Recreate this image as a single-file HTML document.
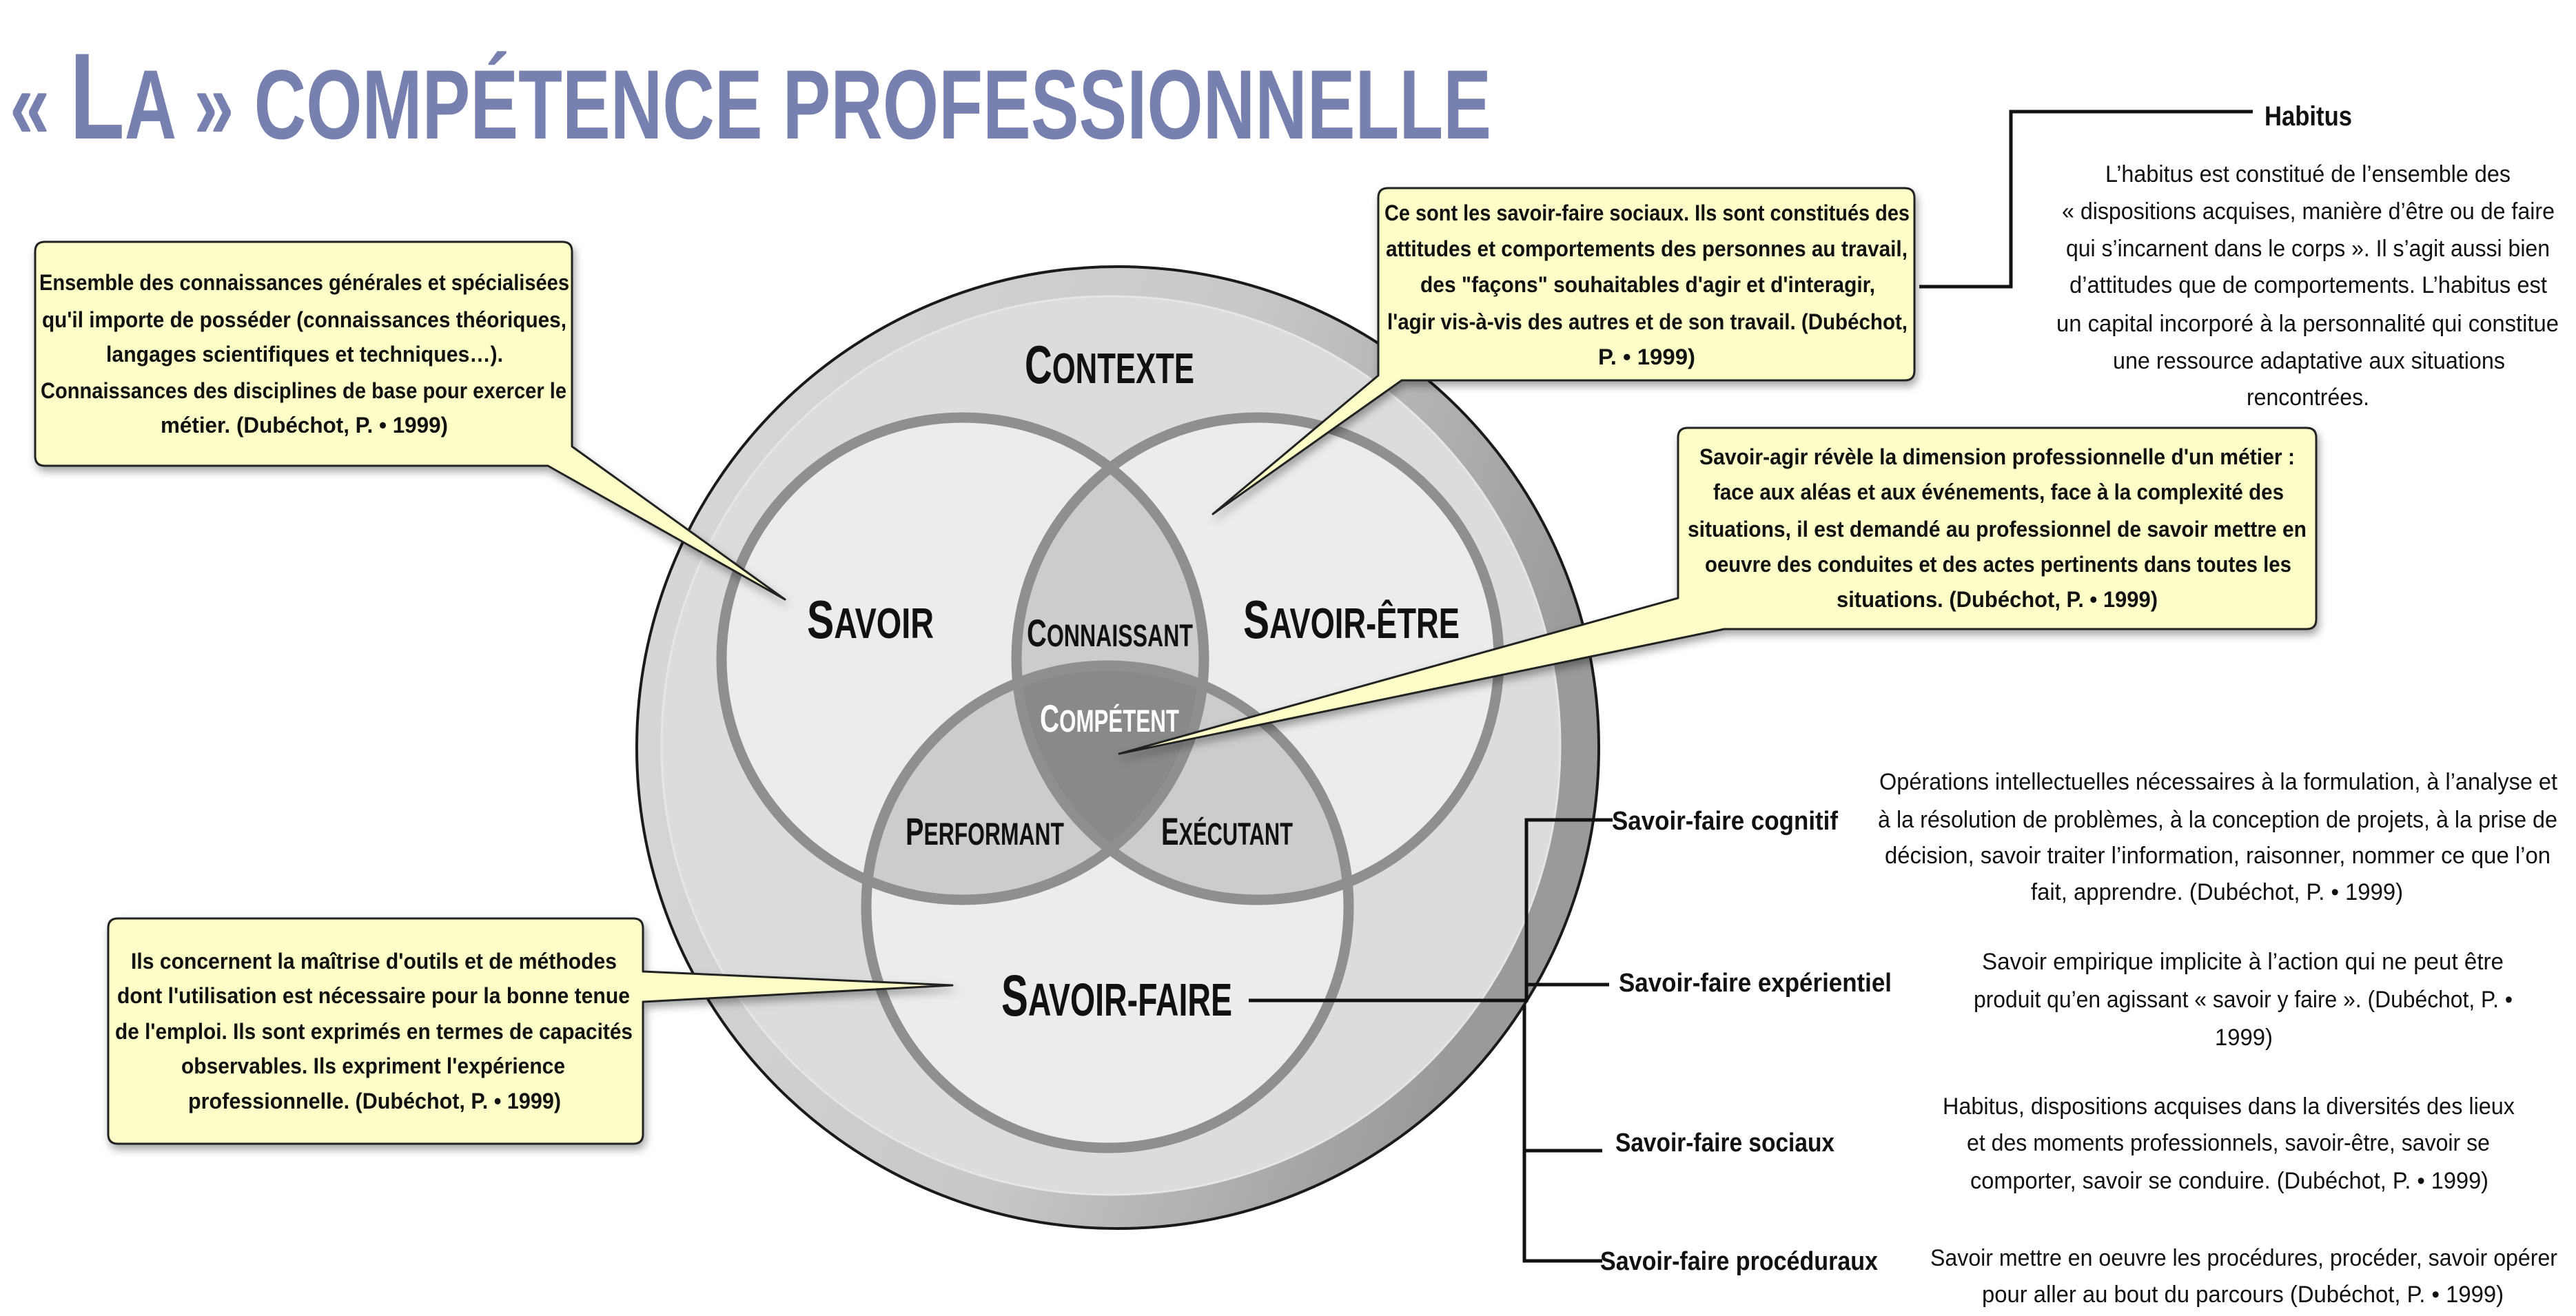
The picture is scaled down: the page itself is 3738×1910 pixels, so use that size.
<!DOCTYPE html>
<html><head><meta charset="utf-8"><style>
html,body{margin:0;padding:0;background:#fff;}
svg{display:block;}
text{font-family:"Liberation Sans",sans-serif;}
.b{font-weight:bold;}
</style></head><body>
<svg width="3738" height="1910" viewBox="0 0 3738 1910" xmlns="http://www.w3.org/2000/svg">
<defs>
<linearGradient id="ring" x1="0" y1="0" x2="1" y2="0.3">
<stop offset="0" stop-color="#dadada"/><stop offset="0.6" stop-color="#c8c8c8"/><stop offset="1" stop-color="#9a9a9a"/>
</linearGradient>
<clipPath id="cA"><circle cx="1397" cy="956" r="350"/></clipPath>
<clipPath id="cB"><circle cx="1825" cy="956" r="350"/></clipPath>
<clipPath id="cC"><circle cx="1607" cy="1316" r="350"/></clipPath>
<filter id="sh" x="-10%" y="-10%" width="130%" height="130%">
<feDropShadow dx="3" dy="7" stdDeviation="6" flood-color="#000" flood-opacity="0.35"/>
</filter>
</defs>

<!-- Title -->
<text x="14" y="201" textLength="2150" lengthAdjust="spacingAndGlyphs" class="b" fill="#7880b0"><tspan font-size="143">« </tspan><tspan font-size="178">L</tspan><tspan font-size="143">A » COMPÉTENCE PROFESSIONNELLE</tspan></text>

<!-- Outer circle -->
<circle cx="1622" cy="1085" r="698" fill="url(#ring)" stroke="#1a1a1a" stroke-width="4"/>
<circle cx="1612" cy="1082" r="652" fill="#dcdcdc" stroke="#e6e6e6" stroke-width="3"/>

<!-- Venn fills -->
<circle cx="1397" cy="956" r="350" fill="#ebeceb"/>
<circle cx="1825" cy="956" r="350" fill="#ebeceb"/>
<circle cx="1607" cy="1316" r="350" fill="#ebeceb"/>
<g clip-path="url(#cA)"><circle cx="1825" cy="956" r="350" fill="#cbcccb"/><circle cx="1607" cy="1316" r="350" fill="#cbcccb"/></g>
<g clip-path="url(#cB)"><circle cx="1607" cy="1316" r="350" fill="#cbcccb"/></g>
<g clip-path="url(#cA)"><g clip-path="url(#cB)"><circle cx="1607" cy="1316" r="350" fill="#888988"/></g></g>
<g fill="none" stroke="#8e8f8e" stroke-width="15">
<circle cx="1397" cy="956" r="350"/><circle cx="1825" cy="956" r="350"/><circle cx="1607" cy="1316" r="350"/>
</g>

<!-- Diagram labels -->
<g class="b" fill="#111">
<text x="1487" y="556" textLength="246" lengthAdjust="spacingAndGlyphs"><tspan font-size="78">C</tspan><tspan font-size="62">ONTEXTE</tspan></text>
<text x="1171" y="926" textLength="184" lengthAdjust="spacingAndGlyphs"><tspan font-size="78">S</tspan><tspan font-size="62">AVOIR</tspan></text>
<text x="1804" y="926" textLength="314" lengthAdjust="spacingAndGlyphs"><tspan font-size="78">S</tspan><tspan font-size="62">AVOIR-ÊTRE</tspan></text>
<text x="1490" y="938" textLength="241" lengthAdjust="spacingAndGlyphs"><tspan font-size="56">C</tspan><tspan font-size="45">ONNAISSANT</tspan></text>
<text x="1509" y="1062" textLength="202" lengthAdjust="spacingAndGlyphs" fill="#fff"><tspan font-size="56">C</tspan><tspan font-size="45">OMPÉTENT</tspan></text>
<text x="1314" y="1226" textLength="230" lengthAdjust="spacingAndGlyphs"><tspan font-size="56">P</tspan><tspan font-size="45">ERFORMANT</tspan></text>
<text x="1685" y="1226" textLength="191" lengthAdjust="spacingAndGlyphs"><tspan font-size="56">E</tspan><tspan font-size="45">XÉCUTANT</tspan></text>
<text x="1453" y="1474" textLength="335" lengthAdjust="spacingAndGlyphs"><tspan font-size="84">S</tspan><tspan font-size="67">AVOIR-FAIRE</tspan></text>
</g>

<!-- Callouts -->
<g fill="#fdfdc8" stroke="#222" stroke-width="3" stroke-linejoin="round" filter="url(#sh)">
<path d="M65,351 H816 Q830,351 830,365 V648 L1139,870 L795,676 H65 Q51,676 51,662 V365 Q51,351 65,351 Z"/>
<path d="M171,1333 H919 Q933,1333 933,1347 V1410 L1382,1430 L933,1454 V1646 Q933,1660 919,1660 H171 Q157,1660 157,1646 V1347 Q157,1333 171,1333 Z"/>
<path d="M2014,273 H2764 Q2778,273 2778,287 V538 Q2778,552 2764,552 H2034 L1760,746 L2000,545 V287 Q2000,273 2014,273 Z"/>
<path d="M2449,621 H3347 Q3361,621 3361,635 V899 Q3361,913 3347,913 H2502 L1624,1094 L2435,868 V635 Q2435,621 2449,621 Z"/>
</g>

<g class="b" fill="#111" font-size="32">
<text x="57" y="421" textLength="769" lengthAdjust="spacingAndGlyphs">Ensemble des connaissances générales et spécialisées</text>
<text x="61" y="475" textLength="761" lengthAdjust="spacingAndGlyphs">qu'il importe de posséder (connaissances théoriques,</text>
<text x="154" y="525" textLength="576" lengthAdjust="spacingAndGlyphs">langages scientifiques et techniques…).</text>
<text x="59" y="578" textLength="763" lengthAdjust="spacingAndGlyphs">Connaissances des disciplines de base pour exercer le</text>
<text x="233" y="628" textLength="417" lengthAdjust="spacingAndGlyphs">métier. (Dubéchot, P. • 1999)</text>

<text x="190" y="1406" textLength="705" lengthAdjust="spacingAndGlyphs">Ils concernent la maîtrise d'outils et de méthodes</text>
<text x="170" y="1456" textLength="744" lengthAdjust="spacingAndGlyphs">dont l'utilisation est nécessaire pour la bonne tenue</text>
<text x="167" y="1508" textLength="751" lengthAdjust="spacingAndGlyphs">de l'emploi. Ils sont exprimés en termes de capacités</text>
<text x="263" y="1558" textLength="557" lengthAdjust="spacingAndGlyphs">observables. Ils expriment l'expérience</text>
<text x="273" y="1609" textLength="541" lengthAdjust="spacingAndGlyphs">professionnelle. (Dubéchot, P. • 1999)</text>

<text x="2009" y="320" textLength="762" lengthAdjust="spacingAndGlyphs">Ce sont les savoir-faire sociaux. Ils sont constitués des</text>
<text x="2011" y="372" textLength="757" lengthAdjust="spacingAndGlyphs">attitudes et comportements des personnes au travail,</text>
<text x="2061" y="424" textLength="660" lengthAdjust="spacingAndGlyphs">des "façons" souhaitables d'agir et d'interagir,</text>
<text x="2013" y="478" textLength="755" lengthAdjust="spacingAndGlyphs">l'agir vis-à-vis des autres et de son travail. (Dubéchot,</text>
<text x="2319" y="529" textLength="141" lengthAdjust="spacingAndGlyphs">P. • 1999)</text>

<text x="2466" y="674" textLength="864" lengthAdjust="spacingAndGlyphs">Savoir-agir révèle la dimension professionnelle d'un métier :</text>
<text x="2486" y="725" textLength="828" lengthAdjust="spacingAndGlyphs">face aux aléas et aux événements, face à la complexité des</text>
<text x="2449" y="779" textLength="898" lengthAdjust="spacingAndGlyphs">situations, il est demandé au professionnel de savoir mettre en</text>
<text x="2474" y="830" textLength="851" lengthAdjust="spacingAndGlyphs">oeuvre des conduites et des actes pertinents dans toutes les</text>
<text x="2665" y="881" textLength="466" lengthAdjust="spacingAndGlyphs">situations. (Dubéchot, P. • 1999)</text>
</g>

<!-- Connectors -->
<g fill="none" stroke="#111" stroke-width="5">
<path d="M2785,416 H2918 V162 H3269"/>
<path d="M1812,1452 H2215 V1190 H2340"/>
<path d="M2215,1429 H2335"/>
<path d="M2212,1458 V1830 H2325"/>
<path d="M2212,1670 H2325"/>
</g>

<!-- Habitus -->
<text x="3286" y="182" textLength="127" lengthAdjust="spacingAndGlyphs" class="b" font-size="40" fill="#111">Habitus</text>
<g fill="#111" font-size="34">
<text x="3055" y="264" textLength="588" lengthAdjust="spacingAndGlyphs">L’habitus est constitué de l’ensemble des</text>
<text x="2992" y="318" textLength="715" lengthAdjust="spacingAndGlyphs">« dispositions acquises, manière d’être ou de faire</text>
<text x="2998" y="372" textLength="702" lengthAdjust="spacingAndGlyphs">qui s’incarnent dans le corps ». Il s’agit aussi bien</text>
<text x="3003" y="425" textLength="693" lengthAdjust="spacingAndGlyphs">d’attitudes que de comportements. L’habitus est</text>
<text x="2984" y="481" textLength="729" lengthAdjust="spacingAndGlyphs">un capital incorporé à la personnalité qui constitue</text>
<text x="3066" y="535" textLength="569" lengthAdjust="spacingAndGlyphs">une ressource adaptative aux situations</text>
<text x="3260" y="588" textLength="178" lengthAdjust="spacingAndGlyphs">rencontrées.</text>
</g>

<!-- Savoir-faire sub-types -->
<g class="b" fill="#111" font-size="38">
<text x="2339" y="1204" textLength="328" lengthAdjust="spacingAndGlyphs">Savoir-faire cognitif</text>
<text x="2349" y="1439" textLength="396" lengthAdjust="spacingAndGlyphs">Savoir-faire expérientiel</text>
<text x="2344" y="1671" textLength="318" lengthAdjust="spacingAndGlyphs">Savoir-faire sociaux</text>
<text x="2322" y="1843" textLength="403" lengthAdjust="spacingAndGlyphs">Savoir-faire procéduraux</text>
</g>
<g fill="#111" font-size="34">
<text x="2727" y="1146" textLength="984" lengthAdjust="spacingAndGlyphs">Opérations intellectuelles nécessaires à la formulation, à l’analyse et</text>
<text x="2725" y="1201" textLength="986" lengthAdjust="spacingAndGlyphs">à la résolution de problèmes, à la conception de projets, à la prise de</text>
<text x="2735" y="1253" textLength="966" lengthAdjust="spacingAndGlyphs">décision, savoir traiter l’information, raisonner, nommer ce que l’on</text>
<text x="2947" y="1306" textLength="540" lengthAdjust="spacingAndGlyphs">fait, apprendre. (Dubéchot, P. • 1999)</text>

<text x="2876" y="1407" textLength="757" lengthAdjust="spacingAndGlyphs">Savoir empirique implicite à l’action qui ne peut être</text>
<text x="2864" y="1462" textLength="782" lengthAdjust="spacingAndGlyphs">produit qu’en agissant « savoir y faire ». (Dubéchot, P. •</text>
<text x="3214" y="1517" textLength="84" lengthAdjust="spacingAndGlyphs">1999)</text>

<text x="2819" y="1617" textLength="830" lengthAdjust="spacingAndGlyphs">Habitus, dispositions acquises dans la diversités des lieux</text>
<text x="2854" y="1670" textLength="759" lengthAdjust="spacingAndGlyphs">et des moments professionnels, savoir-être, savoir se</text>
<text x="2859" y="1725" textLength="752" lengthAdjust="spacingAndGlyphs">comporter, savoir se conduire. (Dubéchot, P. • 1999)</text>

<text x="2801" y="1837" textLength="910" lengthAdjust="spacingAndGlyphs">Savoir mettre en oeuvre les procédures, procéder, savoir opérer</text>
<text x="2876" y="1890" textLength="757" lengthAdjust="spacingAndGlyphs">pour aller au bout du parcours (Dubéchot, P. • 1999)</text>
</g>
</svg>
</body></html>
